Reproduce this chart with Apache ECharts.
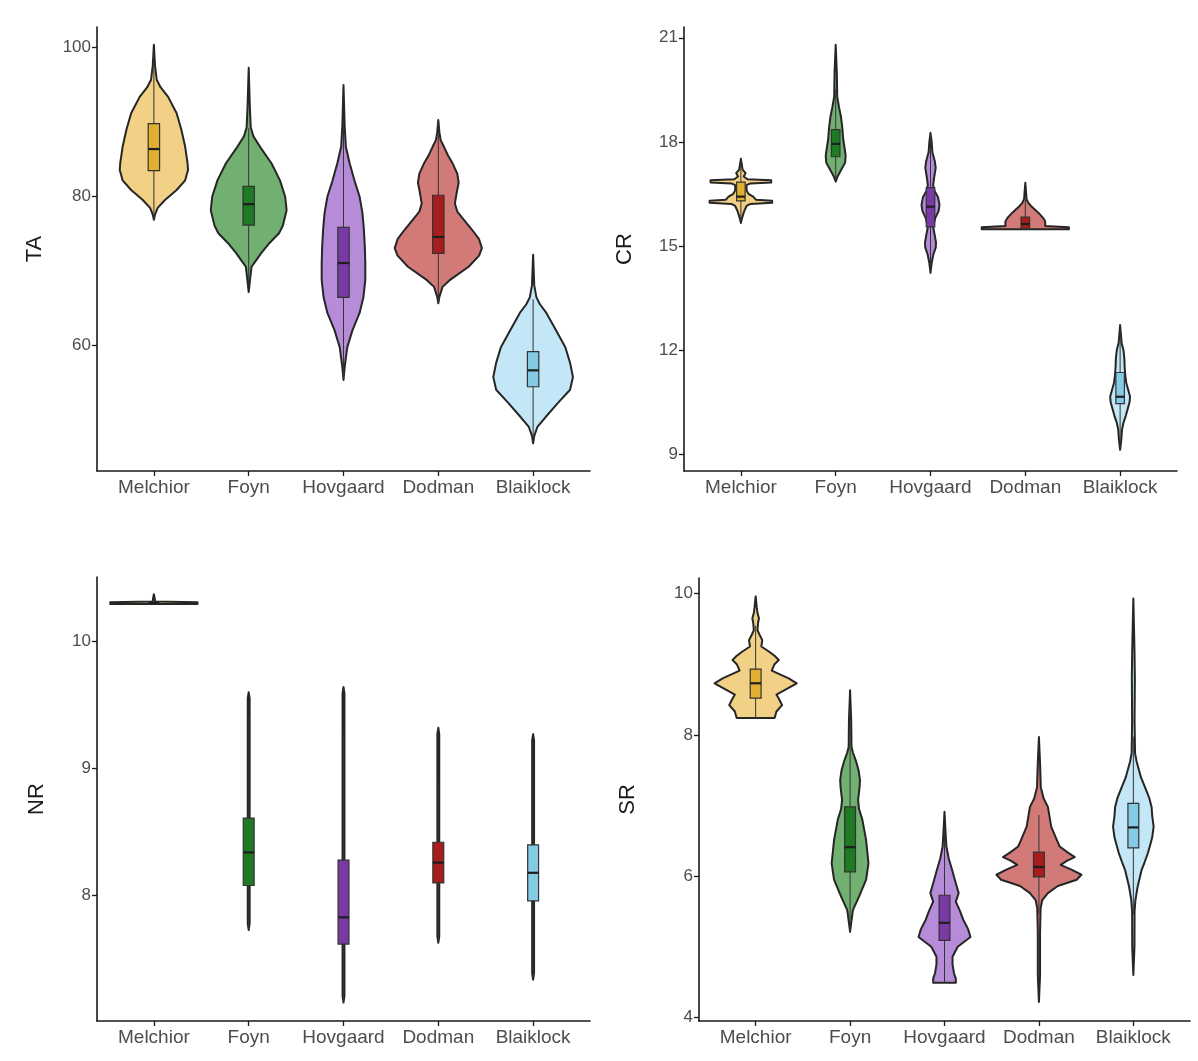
<!DOCTYPE html>
<html>
<head>
<meta charset="utf-8">
<script src="https://cdn.jsdelivr.net/npm/echarts@6/dist/echarts.min.js"></script>
<style>
html,body{margin:0;padding:0;background:#fff;}
#chart{width:1198px;height:1061px;}
</style>
</head>
<body>
<div id="chart"></div>
<script>
const categories = ['Melchior', 'Foyn', 'Hovgaard', 'Dodman', 'Blaiklock'];

// violin fill colours and box fill colours per site
const violinColors = ['#F2D186', '#72B072', '#B68CD8', '#D27A78', '#C3E7F6'];
const boxColors = ['#E2B02E', '#1F7A24', '#7A3AA6', '#A81C1E', '#86CBE6'];

// Violin profiles: [value, half-width in category units]
const TA_violins = [
  [[76.8,0],[77.5,0.012],[78.4,0.04],[79.5,0.12],[80.8,0.24],[82.1,0.33],[83.5,0.36],[84.4,0.355],[86.6,0.33],[88.9,0.29],[91.1,0.24],[93.3,0.15],[94.6,0.07],[95.6,0.03],[97.5,0.012],[100.3,0]],
  [[67.1,0],[68.5,0.012],[70.5,0.03],[71.4,0.08],[72.3,0.13],[73.7,0.22],[75.0,0.32],[76.0,0.36],[78.1,0.40],[79.9,0.385],[82.1,0.33],[84.4,0.24],[86.6,0.12],[88.0,0.05],[89.2,0.022],[92,0.012],[97.2,0]],
  [[55.3,0],[57,0.012],[59.7,0.04],[62,0.095],[64.3,0.17],[66.4,0.21],[68.7,0.23],[71,0.23],[73.2,0.225],[75.5,0.215],[77.7,0.2],[79.9,0.17],[82.1,0.115],[84.4,0.065],[86.6,0.025],[89.5,0.012],[94.9,0]],
  [[65.6,0],[66.5,0.012],[67.8,0.045],[68.7,0.12],[70.5,0.32],[72,0.43],[73,0.46],[74.2,0.43],[75.4,0.36],[76.8,0.27],[77.9,0.2],[79.0,0.175],[80.5,0.195],[81.8,0.215],[83.0,0.2],[84.4,0.15],[85.5,0.1],[86.6,0.06],[87.5,0.025],[88.5,0.012],[90.2,0]],
  [[46.8,0],[47.8,0.012],[49,0.045],[50.3,0.13],[52.2,0.26],[54,0.39],[55.7,0.42],[57.6,0.39],[59.7,0.34],[62,0.24],[64.3,0.14],[65.5,0.07],[66.4,0.035],[68,0.012],[72.1,0]]
];
const CR_violins = [
  [[15.66,0],[15.8,0.012],[16.0,0.035],[16.15,0.06],[16.21,0.1],[16.24,0.33],[16.30,0.33],[16.33,0.16],[16.42,0.13],[16.5,0.08],[16.6,0.06],[16.75,0.06],[16.80,0.1],[16.83,0.32],[16.89,0.32],[16.92,0.07],[17.0,0.03],[17.1,0.05],[17.2,0.018],[17.51,0]],
  [[16.85,0],[17.0,0.02],[17.2,0.06],[17.4,0.1],[17.6,0.105],[17.8,0.095],[18.06,0.08],[18.4,0.07],[18.73,0.055],[19.0,0.035],[19.3,0.016],[20,0.012],[20.8,0]],
  [[14.22,0],[14.5,0.012],[14.75,0.03],[14.95,0.055],[15.1,0.058],[15.3,0.045],[15.55,0.028],[15.8,0.05],[16.0,0.085],[16.18,0.095],[16.4,0.08],[16.6,0.04],[16.76,0.028],[17.0,0.04],[17.25,0.055],[17.45,0.045],[17.7,0.02],[18.0,0.012],[18.26,0]],
  [[15.48,0.46],[15.54,0.46],[15.57,0.21],[15.7,0.21],[15.8,0.19],[15.95,0.14],[16.05,0.1],[16.15,0.06],[16.25,0.03],[16.35,0.013],[16.82,0]],
  [[9.12,0],[9.4,0.012],[9.7,0.02],[9.9,0.035],[10.1,0.06],[10.3,0.08],[10.5,0.1],[10.65,0.105],[10.85,0.085],[11.05,0.065],[11.25,0.055],[11.5,0.048],[11.75,0.045],[12.0,0.035],[12.2,0.016],[12.72,0]]
];
const NR_violins = [
  [[10.293,0.46],[10.307,0.46],[10.312,0.012],[10.33,0.01],[10.37,0]],
  [[7.73,0],[7.78,0.01],[9.55,0.01],[9.60,0]],
  [[7.16,0],[7.21,0.01],[9.59,0.01],[9.64,0]],
  [[7.63,0],[7.68,0.01],[9.27,0.01],[9.32,0]],
  [[7.34,0],[7.39,0.01],[9.22,0.01],[9.27,0]]
];
const SR_violins = [
  [[8.24,0.2],[8.28,0.21],[8.33,0.22],[8.42,0.28],[8.5,0.25],[8.57,0.22],[8.65,0.33],[8.73,0.435],[8.8,0.35],[8.91,0.17],[9.0,0.2],[9.06,0.245],[9.12,0.2],[9.18,0.14],[9.25,0.06],[9.34,0.07],[9.42,0.04],[9.48,0.02],[9.58,0.025],[9.65,0.035],[9.72,0.02],[9.8,0.012],[9.96,0]],
  [[5.21,0],[5.35,0.013],[5.52,0.03],[5.71,0.095],[5.95,0.17],[6.18,0.195],[6.51,0.17],[6.8,0.13],[6.95,0.095],[7.08,0.085],[7.25,0.1],[7.36,0.105],[7.5,0.09],[7.64,0.06],[7.75,0.03],[7.83,0.015],[8.2,0.012],[8.63,0]],
  [[4.49,0.12],[4.55,0.12],[4.63,0.1],[4.75,0.085],[4.86,0.085],[5.0,0.14],[5.14,0.275],[5.25,0.25],[5.38,0.2],[5.52,0.16],[5.64,0.12],[5.76,0.15],[5.9,0.12],[6.09,0.08],[6.25,0.045],[6.42,0.02],[6.6,0.012],[6.91,0]],
  [[4.22,0],[4.6,0.012],[5.2,0.012],[5.55,0.018],[5.66,0.035],[5.76,0.095],[5.86,0.2],[5.95,0.4],[6.02,0.45],[6.09,0.35],[6.16,0.23],[6.22,0.3],[6.27,0.38],[6.34,0.3],[6.42,0.22],[6.51,0.19],[6.7,0.13],[6.98,0.095],[7.1,0.05],[7.26,0.02],[7.6,0.012],[7.97,0]],
  [[4.6,0],[5.0,0.012],[5.5,0.013],[5.66,0.022],[5.85,0.045],[6.09,0.088],[6.2,0.12],[6.33,0.155],[6.45,0.18],[6.55,0.2],[6.7,0.215],[6.85,0.2],[6.98,0.193],[7.1,0.17],[7.26,0.123],[7.4,0.08],[7.5,0.06],[7.62,0.035],[7.74,0.018],[8.2,0.013],[8.8,0.016],[9.2,0.012],[9.93,0]]
];

// Box statistics: [Q1, median, Q3]
const TA_boxes = [[83.4,86.3,89.7],[76.1,78.9,81.3],[66.4,71.0,75.8],[72.3,74.5,80.1],[54.4,56.6,59.1]];
const CR_boxes = [[16.30,16.42,16.84],[17.57,17.94,18.35],[15.55,16.13,16.68],[15.50,15.63,15.83],[10.45,10.65,11.35]];
const NR_boxes = [[10.30,10.30,10.30],[8.08,8.34,8.61],[7.62,7.83,8.28],[8.10,8.26,8.42],[7.96,8.18,8.40]];
const SR_boxes = [[8.52,8.73,8.93],[6.06,6.41,6.98],[5.09,5.34,5.73],[5.99,6.13,6.34],[6.40,6.69,7.03]];

// Tick labels
const TA_ticks = [60, 80, 100];
const CR_ticks = [9, 12, 15, 18, 21];
const NR_ticks = [8, 9, 10];
const SR_ticks = [4, 6, 8, 10];
const catTicks = [1, 2, 3, 4, 5];

const panels = [
  {name: 'TA', violins: TA_violins, boxes: TA_boxes, ticks: TA_ticks, min: 43.09, max: 102.68, boxW: 0.12, grid: {left: 97, top: 27, width: 493, height: 444}, nameGap: 51},
  {name: 'CR', violins: CR_violins, boxes: CR_boxes, ticks: CR_ticks, min: 8.51, max: 21.31, boxW: 0.09, grid: {left: 684, top: 27, width: 493, height: 444}, nameGap: 48},
  {name: 'NR', violins: NR_violins, boxes: NR_boxes, ticks: NR_ticks, min: 7.015, max: 10.505, boxW: 0.115, grid: {left: 97, top: 577, width: 493, height: 444}, nameGap: 49},
  {name: 'SR', violins: SR_violins, boxes: SR_boxes, ticks: SR_ticks, min: 3.95, max: 10.22, boxW: 0.115, grid: {left: 699, top: 578, width: 491, height: 443}, nameGap: 60}
];

const FONT = 'Liberation Sans, Arial, sans-serif';
const axisColor = '#1a1a1a';
const labelColor = '#4d4d4d';

function makeRender(p) {
  return function (params, api) {
    const i = params.dataIndex;
    const cx = i + 1;
    const prof = p.violins[i];
    const right = prof.map(d => api.coord([cx + d[1], d[0]]));
    const left = prof.slice().reverse().map(d => api.coord([cx - d[1], d[0]]));
    const pts = right.concat(left);
    const b = p.boxes[i];
    const iqr = b[2] - b[0];
    const vmin = prof[0][0], vmax = prof[prof.length - 1][0];
    const lo = Math.max(vmin, b[0] - 1.5 * iqr);
    const hi = Math.min(vmax, b[2] + 1.5 * iqr);
    const tl = api.coord([cx - p.boxW / 2, b[2]]);
    const br = api.coord([cx + p.boxW / 2, b[0]]);
    const mL = api.coord([cx - p.boxW / 2, b[1]]);
    const mR = api.coord([cx + p.boxW / 2, b[1]]);
    const wTop = api.coord([cx, hi]);
    const wBot = api.coord([cx, lo]);
    return {
      type: 'group',
      children: [
        {type: 'polygon', shape: {points: pts}, style: {fill: violinColors[i], stroke: '#262626', lineWidth: 2, lineJoin: 'round'}},
        {type: 'line', shape: {x1: wTop[0], y1: wTop[1], x2: wBot[0], y2: wBot[1]}, style: {stroke: '#333', lineWidth: 1}},
        {type: 'rect', shape: {x: tl[0], y: tl[1], width: br[0] - tl[0], height: br[1] - tl[1]}, style: {fill: boxColors[i], stroke: '#333', lineWidth: 1.2}},
        {type: 'line', shape: {x1: mL[0], y1: mL[1], x2: mR[0], y2: mR[1]}, style: {stroke: '#1e1e1e', lineWidth: 2.2}}
      ]
    };
  };
}

const grids = [], xAxes = [], yAxes = [], series = [];
panels.forEach((p, k) => {
  grids.push(Object.assign({containLabel: false}, p.grid));
  xAxes.push({
    type: 'value', gridIndex: k, min: 0.4, max: 5.6,
    axisLine: {show: true, lineStyle: {color: axisColor, width: 1.6}},
    axisTick: {show: true, customValues: catTicks, length: 5, lineStyle: {color: axisColor, width: 1.3}},
    axisLabel: {show: true, customValues: catTicks, formatter: v => categories[Math.round(v) - 1] || '', color: labelColor, fontFamily: FONT, fontSize: 19, margin: 7},
    splitLine: {show: false}
  });
  yAxes.push({
    type: 'value', gridIndex: k, min: p.min, max: p.max,
    name: p.name, nameLocation: 'middle', nameGap: p.nameGap, nameRotate: 90,
    nameTextStyle: {color: '#1a1a1a', fontFamily: FONT, fontSize: 22},
    axisLine: {show: true, lineStyle: {color: axisColor, width: 1.6}},
    axisTick: {show: true, customValues: p.ticks, length: 5, lineStyle: {color: axisColor, width: 1.3}},
    axisLabel: {show: true, customValues: p.ticks, color: labelColor, fontFamily: FONT, fontSize: 17, margin: 6},
    splitLine: {show: false}
  });
  series.push({
    type: 'custom', xAxisIndex: k, yAxisIndex: k,
    renderItem: makeRender(p),
    data: categories.map((c, i) => [i + 1, p.boxes[i][1]]),
    encode: {x: 0, y: 1},
    silent: true, animation: false, clip: false
  });
});

const chart = echarts.init(document.getElementById('chart'), null, {renderer: 'canvas'});
chart.setOption({
  backgroundColor: '#ffffff',
  animation: false,
  grid: grids,
  xAxis: xAxes,
  yAxis: yAxes,
  series: series
});
</script>
</body>
</html>
